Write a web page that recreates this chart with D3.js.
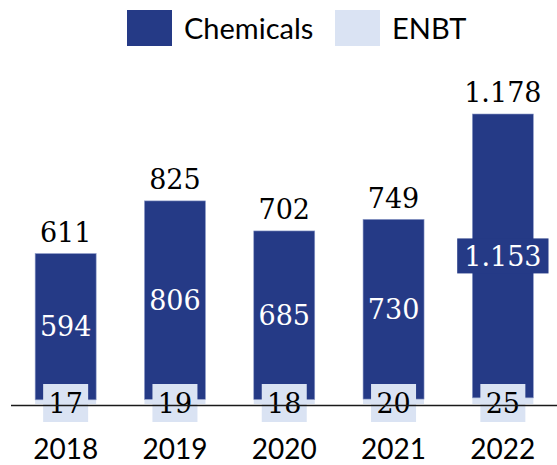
<!DOCTYPE html>
<html>
<head>
<meta charset="utf-8">
<script src="https://cdn.jsdelivr.net/npm/d3@7"></script>
<style>
  body { margin: 0; background: #fff; }
  svg { display: block; }
</style>
</head>
<body>
<svg id="chart" width="557" height="465"></svg>
<script>
const years = ['2018', '2019', '2020', '2021', '2022'];
const chemicals = [594, 806, 685, 730, 1153];
const enbt = [17, 19, 18, 20, 25];
const totals = [611, 825, 702, 749, 1178];
const totalLabels = ['611', '825', '702', '749', '1.178'];
const chemLabels = ['594', '806', '685', '730', '1.153'];
const enbtLabels = ['17', '19', '18', '20', '25'];

const DARK = '#253a86', LIGHT = '#dae3f3';
const serif = 'DejaVu Serif', sans = 'Lato';

const svg = d3.select('#chart');

const x = d3.scaleBand().domain(years)
  .range([11, 557.5])
  .paddingInner(0.442)
  .paddingOuter(0.221);
const y = d3.scaleLinear().domain([0, 1178]).range([404, 114]);

const data = years.map((yr, i) => ({
  year: yr, chem: chemicals[i], enbt: enbt[i], total: totals[i],
  totalLabel: totalLabels[i], chemLabel: chemLabels[i], enbtLabel: enbtLabels[i]
}));

// legend
const legend = svg.append('g').attr('class', 'legend');
[['Chemicals', DARK, 127], ['ENBT', LIGHT, 335]].forEach(([name, col, lx]) => {
  legend.append('rect').attr('x', lx).attr('y', 10).attr('width', 45).attr('height', 36).attr('fill', col);
  legend.append('text').attr('x', lx + 57).attr('y', 39)
    .attr('font-family', sans).attr('font-size', 29).attr('fill', '#000').text(name);
});

const g = svg.append('g');

// ENBT segments (bottom)
g.selectAll('.enbt').data(data).enter().append('rect')
  .attr('class', 'enbt')
  .attr('x', d => x(d.year)).attr('width', x.bandwidth())
  .attr('y', d => y(d.enbt)).attr('height', d => y(0) - y(d.enbt))
  .attr('fill', LIGHT);

// Chemicals segments
g.selectAll('.chem').data(data).enter().append('rect')
  .attr('class', 'chem')
  .attr('x', d => x(d.year)).attr('width', x.bandwidth())
  .attr('y', d => y(d.enbt + d.chem)).attr('height', d => y(d.enbt) - y(d.enbt + d.chem))
  .attr('fill', DARK).attr('stroke', '#8d9bc8').attr('stroke-width', 0.6);

// baseline
svg.append('line').attr('x1', 11).attr('x2', 557).attr('y1', y(0) + 1.5).attr('y2', y(0) + 1.5)
  .attr('stroke', '#1a1a1a').attr('stroke-width', 1.5);

// chemicals labels, backdrop only where the label overflows the bar
const cl = g.selectAll('.chem-label').data(data).enter().append('g').attr('class', 'chem-label')
  .attr('transform', d => 'translate(' + (x(d.year) + x.bandwidth() / 2) + ',' + ((y(d.enbt) + y(d.enbt + d.chem)) / 2) + ')');
cl.append('text')
  .attr('text-anchor', 'middle').attr('dy', '0.36em')
  .attr('font-family', serif).attr('font-size', 27).attr('fill', '#fff')
  .text(d => d.chemLabel);
cl.each(function () {
  const len = d3.select(this).select('text').node().getComputedTextLength();
  if (len + 4 < x.bandwidth()) return;
  const w = len + 14;
  d3.select(this).insert('rect', 'text')
    .attr('x', -w / 2).attr('y', -17.5).attr('width', w).attr('height', 35).attr('fill', DARK);
});

// ENBT labels on the baseline
const el = g.selectAll('.enbt-label').data(data).enter().append('g').attr('class', 'enbt-label')
  .attr('transform', d => 'translate(' + (x(d.year) + x.bandwidth() / 2) + ',' + (y(0) - 1) + ')');
el.append('rect').attr('x', -22.5).attr('y', -19).attr('width', 45).attr('height', 38).attr('fill', LIGHT);
el.append('text')
  .attr('text-anchor', 'middle').attr('dy', '0.36em')
  .attr('font-family', serif).attr('font-size', 27).attr('fill', '#000')
  .text(d => d.enbtLabel);

// totals above bars
g.selectAll('.total').data(data).enter().append('text')
  .attr('class', 'total')
  .attr('x', d => x(d.year) + x.bandwidth() / 2)
  .attr('y', d => y(d.total) - 12)
  .attr('text-anchor', 'middle')
  .attr('font-family', serif).attr('font-size', 27).attr('fill', '#000')
  .text(d => d.totalLabel);

// x axis labels
const xAxis = svg.append('g')
  .attr('transform', 'translate(0,' + 459 + ')')
  .call(d3.axisBottom(x).tickSize(0).tickPadding(0));
xAxis.select('.domain').remove();
xAxis.selectAll('text')
  .attr('dy', 0).attr('y', 0)
  .attr('font-family', sans).attr('font-size', 28).attr('fill', '#000');
</script>
</body>
</html>
